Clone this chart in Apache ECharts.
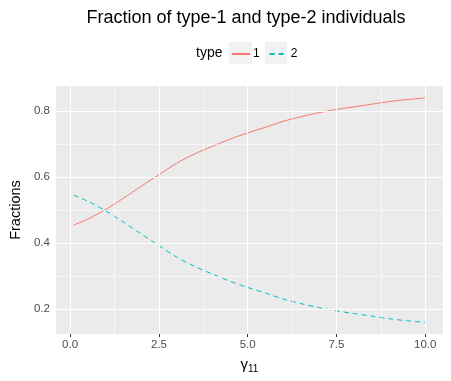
<!DOCTYPE html>
<html>
<head>
  <meta charset="utf-8">
  <script src="https://cdn.jsdelivr.net/npm/echarts@6/dist/echarts.min.js"></script>
  <style>
    html, body { margin: 0; padding: 0; background: #fff; }
    #chart { width: 451px; height: 381px; }
  </style>
</head>
<body>
  <div id="chart"></div>
  <script>
    // gamma_11 values along the x axis
    const gammaVals = [0.1, 0.5, 1, 1.5, 2, 2.5, 3, 3.5, 4, 4.5, 5, 5.5, 6, 6.5, 7, 7.5, 8, 8.5, 9, 9.5, 10];
    // fraction of type-1 individuals
    const type1 = [0.455, 0.473, 0.502, 0.536, 0.572, 0.607, 0.642, 0.670, 0.693, 0.715, 0.734,
                   0.751, 0.769, 0.783, 0.795, 0.805, 0.813, 0.821, 0.829, 0.835, 0.840];
    // fraction of type-2 individuals
    const type2 = [0.545, 0.527, 0.498, 0.464, 0.428, 0.393, 0.358, 0.330, 0.307, 0.285, 0.266,
                   0.249, 0.231, 0.217, 0.205, 0.195, 0.187, 0.179, 0.171, 0.165, 0.160];

    const xTicks = [0, 2.5, 5, 7.5, 10];
    const xMinor = [1.25, 3.75, 6.25, 8.75];
    const yTicks = [0.2, 0.4, 0.6, 0.8];
    const yMinor = [0.3, 0.5, 0.7];

    const FONT = 'Liberation Sans';
    const myChart = echarts.init(document.getElementById('chart'), null, { renderer: 'canvas' });

    // panel grid lines (ggplot style), drawn behind the data
    let gridLines = [];
    for (let v of xTicks) gridLines.push({ xAxis: v, lineStyle: { width: 1.1 } });
    for (let v of xMinor) gridLines.push({ xAxis: v, lineStyle: { width: 0.6 } });
    for (let v of yTicks) gridLines.push({ yAxis: v, lineStyle: { width: 1.1 } });
    for (let v of yMinor) gridLines.push({ yAxis: v, lineStyle: { width: 0.6 } });

    let option = {
      animation: false,
      title: {
        text: 'Fraction of type-1 and type-2 individuals',
        left: 241,
        textAlign: 'center',
        top: 4,
        textStyle: { fontFamily: FONT, fontSize: 18, fontWeight: 'normal', color: '#000' }
      },
      legend: {
        data: ['1', '2'],
        left: 226,
        top: 43,
        itemWidth: 18,
        itemHeight: 14,
        itemGap: 9,
        itemStyle: { opacity: 0 },
        textStyle: { fontFamily: FONT, fontSize: 12, color: '#000', padding: [0, 0, 0, -2] }
      },
      graphic: [
        { type: 'rect', shape: { x: 229, y: 42, width: 23, height: 22 }, style: { fill: '#F2F2F2' }, z: -1 },
        { type: 'rect', shape: { x: 265, y: 42, width: 22, height: 22 }, style: { fill: '#F2F2F2' }, z: -1 },
        { type: 'text', x: 196, y: 53, style: { text: 'type', fontFamily: FONT, fontSize: 14, fill: '#000', verticalAlign: 'middle' } }
      ],
      grid: {
        left: 50, right: 8, top: 86, bottom: 47,
        show: true, backgroundColor: '#EBEBEB', borderWidth: 0
      },
      xAxis: {
        type: 'value',
        min: -0.4, max: 10.5,
        name: '{g|γ}{s|11}',
        nameLocation: 'middle',
        nameGap: 22,
        nameTextStyle: {
          rich: {
            g: { fontFamily: FONT, fontSize: 15, color: '#000' },
            s: { fontFamily: FONT, fontSize: 10, color: '#000', padding: [8, 0, 0, 0] }
          }
        },
        axisLine: { show: false },
        splitLine: { show: false },
        axisTick: { show: true, customValues: xTicks, length: 3, lineStyle: { color: '#333' } },
        axisLabel: {
          customValues: xTicks, margin: 5,
          fontFamily: FONT, fontSize: 11.5, color: '#4D4D4D',
          formatter: v => v.toFixed(1)
        }
      },
      yAxis: {
        type: 'value',
        min: 0.125, max: 0.876,
        name: 'Fractions',
        nameLocation: 'middle',
        nameGap: 28,
        nameTextStyle: { fontFamily: FONT, fontSize: 14.5, color: '#000' },
        axisLine: { show: false },
        splitLine: { show: false },
        axisTick: { show: true, customValues: yTicks, length: 4, lineStyle: { color: '#333' } },
        axisLabel: {
          customValues: yTicks, margin: 6,
          fontFamily: FONT, fontSize: 11.5, color: '#4D4D4D',
          formatter: v => v.toFixed(1)
        }
      },
      series: [
        {
          name: 'bg',
          type: 'line',
          data: [],
          silent: true,
          z: 1,
          markLine: {
            silent: true,
            symbol: ['none', 'none'],
            label: { show: false },
            lineStyle: { color: '#fff', type: 'solid' },
            emphasis: { disabled: true },
            data: gridLines
          }
        },
        {
          name: '1',
          type: 'line',
          z: 3,
          symbol: 'none',
          smooth: 0.3,
          color: '#F8766D',
          lineStyle: { width: 1, color: '#F8766D' },
          data: gammaVals.map((x, i) => [x, type1[i]])
        },
        {
          name: '2',
          type: 'line',
          z: 3,
          symbol: 'none',
          smooth: 0.3,
          color: '#00BFC4',
          lineStyle: { width: 1, color: '#00BFC4', type: [5, 4] },
          data: gammaVals.map((x, i) => [x, type2[i]])
        }
      ]
    };
    myChart.setOption(option);
  </script>
</body>
</html>
